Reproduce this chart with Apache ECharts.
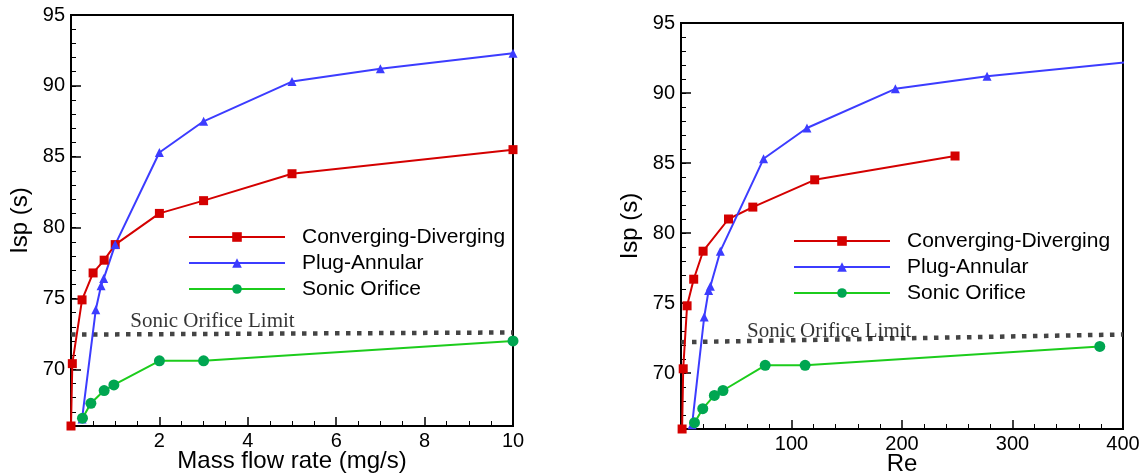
<!DOCTYPE html>
<html>
<head>
<meta charset="utf-8">
<script src="https://cdn.jsdelivr.net/npm/echarts@6/dist/echarts.min.js"></script>
<style>
html,body{margin:0;padding:0;background:#fff;}
#chart{width:1146px;height:476px;}
</style>
</head>
<body>
<div id="chart"></div>
<script>
// ---- Data ----
const seriesNames = ['Converging-Diverging', 'Plug-Annular', 'Sonic Orifice'];

// Left panel: Isp vs mass flow rate (mg/s)
const cdMdot = [0, 0.03, 0.25, 0.5, 0.75, 1, 2, 3, 5, 10];
const cdIsp  = [66.0, 70.4, 74.9, 76.8, 77.7, 78.8, 81.0, 81.9, 83.8, 85.5];
const paMdot = [0.25, 0.56, 0.68, 0.74, 1, 2, 3, 5, 7, 10];
const paIsp  = [66.5, 74.2, 75.9, 76.4, 78.8, 85.3, 87.5, 90.3, 91.2, 92.3];
const soMdot = [0.26, 0.45, 0.75, 0.97, 2, 3, 10];
const soIsp  = [66.55, 67.6, 68.5, 68.9, 70.6, 70.6, 72.0];
const limitMdot = [0, 10];
const limitIsp  = [72.45, 72.6];

// Right panel: Isp vs Re
const cdRe    = [1, 2, 5.5, 11.5, 20, 43, 65, 121, 248];
const cdIspRe = [66.0, 70.3, 74.8, 76.7, 78.7, 81.0, 81.85, 83.8, 85.5];
const paRe    = [10, 21, 25, 26.6, 35.6, 74.7, 114, 194, 277, 417];
const paIspRe = [66.3, 74.0, 75.9, 76.2, 78.7, 85.3, 87.5, 90.3, 91.2, 92.3];
const soRe    = [12.2, 19.7, 30.2, 38, 76.2, 112.3, 379];
const soIspRe = [66.45, 67.45, 68.4, 68.75, 70.55, 70.55, 71.9];
const limitRe    = [0, 400];
const limitIspRe = [72.2, 72.75];

// Annotation text anchor (data coordinates)
const limitText = 'Sonic Orifice Limit';
const limitTextLeft  = [1.34, 73.36];
const limitTextRight = [59.7, 73.0];

// Axis ticks / labels
const yMin = 66, yMax = 95;
const yMajor = [70, 75, 80, 85, 90, 95];
const xLeftMin = 0, xLeftMax = 10, xLeftInterval = 2;
const xRightMin = 0, xRightMax = 400, xRightInterval = 100;
const xLeftName = 'Mass flow rate (mg/s)';
const xRightName = 'Re';
const yName = 'Isp (s)';

// ---- Styles ----
const RED = '#d40000', BLUE = '#3c3cff', GREEN_LINE = '#1ccc1c', GREEN_MARK = '#00a651';
const SANS = 'Liberation Sans, Arial, sans-serif';
const SERIF = 'Liberation Serif, Times New Roman, serif';

function zip(a, b) { return a.map((v, i) => [v, b[i]]); }

function xAxisCfg(gridIndex, min, max, interval, split, name) {
  return {
    type: 'value', gridIndex, min, max, interval,
    name, nameLocation: 'middle', nameGap: 23, nameMoveOverlap: false,
    nameTextStyle: { fontFamily: SANS, fontSize: 24, color: '#000' },
    axisLine: { show: true, lineStyle: { color: '#000', width: 2 } },
    axisTick: { show: true, inside: true, length: 9, lineStyle: { color: '#000', width: 1.5 } },
    minorTick: { show: true, splitNumber: split, length: 5, lineStyle: { color: '#000', width: 1 } },
    axisLabel: { fontFamily: SANS, fontSize: 20, color: '#000', margin: 5,
      formatter: v => (v === 0 ? '' : String(v)) },
    splitLine: { show: false }, minorSplitLine: { show: false }
  };
}
function yAxisMain(gridIndex) {
  return {
    type: 'value', gridIndex, min: yMin, max: yMax, interval: 1, position: 'left',
    name: yName, nameLocation: 'middle', nameGap: 39, nameMoveOverlap: false,
    nameTextStyle: { fontFamily: SANS, fontSize: 24, color: '#000' },
    axisLine: { show: true, lineStyle: { color: '#000', width: 2 } },
    axisTick: { show: true, inside: true, length: 5, lineStyle: { color: '#000', width: 1 } },
    axisLabel: { fontFamily: SANS, fontSize: 20, color: '#000', margin: 6,
      formatter: v => (v % 5 === 0 ? String(v) : '') },
    splitLine: { show: false }
  };
}
function yAxisMajor(gridIndex) {
  return {
    type: 'value', gridIndex, min: yMin, max: yMax, interval: 1, position: 'left',
    axisLine: { show: false },
    axisTick: { show: true, inside: true, length: 10, customValues: yMajor,
      lineStyle: { color: '#000', width: 1.5 } },
    axisLabel: { show: false },
    splitLine: { show: false }
  };
}

function dataSeries(xi, yi, xs, ys, which) {
  const base = { type: 'line', xAxisIndex: xi, yAxisIndex: yi, clip: true, z: 3 };
  if (which === 0) return Object.assign(base, { name: seriesNames[0], data: zip(xs, ys),
    symbol: 'rect', symbolSize: 9, lineStyle: { color: RED, width: 2 }, itemStyle: { color: RED } });
  if (which === 1) return Object.assign(base, { name: seriesNames[1], data: zip(xs, ys),
    symbol: 'triangle', symbolSize: 9, lineStyle: { color: BLUE, width: 2 }, itemStyle: { color: BLUE } });
  return Object.assign(base, { name: seriesNames[2], data: zip(xs, ys),
    symbol: 'circle', symbolSize: 11, lineStyle: { color: GREEN_LINE, width: 2 }, itemStyle: { color: GREEN_MARK } });
}
function limitSeries(xi, yi, xs, ys) {
  return { type: 'line', xAxisIndex: xi, yAxisIndex: yi, data: zip(xs, ys), symbol: 'none', silent: true,
    lineStyle: { color: '#444', width: 4.5, type: [4.5, 6.5], cap: 'butt' }, z: 2 };
}
function textSeries(xi, yi, pt) {
  return { type: 'scatter', xAxisIndex: xi, yAxisIndex: yi, data: [pt], symbolSize: 0, silent: true,
    label: { show: true, position: 'right', distance: 0, formatter: limitText,
      fontFamily: SERIF, fontSize: 21, color: '#000' }, z: 4 };
}
function legendCfg(left, top) {
  return {
    data: seriesNames, orient: 'vertical', left, top,
    itemWidth: 96, itemHeight: 12, itemGap: 4,
    textStyle: { fontFamily: SANS, fontSize: 21, color: '#000', lineHeight: 22, padding: [0, 0, 0, 12] }
  };
}

const chart = echarts.init(document.getElementById('chart'), null, { renderer: 'canvas' });
chart.setOption({
  animation: false,
  backgroundColor: '#fff',
  grid: [
    { left: 71, top: 15, width: 442, height: 411, show: true, borderColor: '#000', borderWidth: 2,
      backgroundColor: 'transparent', containLabel: false, outerBoundsMode: 'none' },
    { left: 681, top: 23, width: 442, height: 406, show: true, borderColor: '#000', borderWidth: 2,
      backgroundColor: 'transparent', containLabel: false, outerBoundsMode: 'none' }
  ],
  legend: [legendCfg(183, 221), legendCfg(788, 225)],
  xAxis: [
    xAxisCfg(0, xLeftMin, xLeftMax, xLeftInterval, 4, xLeftName),
    xAxisCfg(1, xRightMin, xRightMax, xRightInterval, 5, xRightName)
  ],
  yAxis: [yAxisMain(0), yAxisMajor(0), yAxisMain(1), yAxisMajor(1)],
  series: [
    limitSeries(0, 0, limitMdot, limitIsp),
    textSeries(0, 0, limitTextLeft),
    dataSeries(0, 0, cdMdot, cdIsp, 0),
    dataSeries(0, 0, paMdot, paIsp, 1),
    dataSeries(0, 0, soMdot, soIsp, 2),
    limitSeries(1, 2, limitRe, limitIspRe),
    textSeries(1, 2, limitTextRight),
    dataSeries(1, 2, cdRe, cdIspRe, 0),
    dataSeries(1, 2, paRe, paIspRe, 1),
    dataSeries(1, 2, soRe, soIspRe, 2)
  ]
});
</script>
</body>
</html>
